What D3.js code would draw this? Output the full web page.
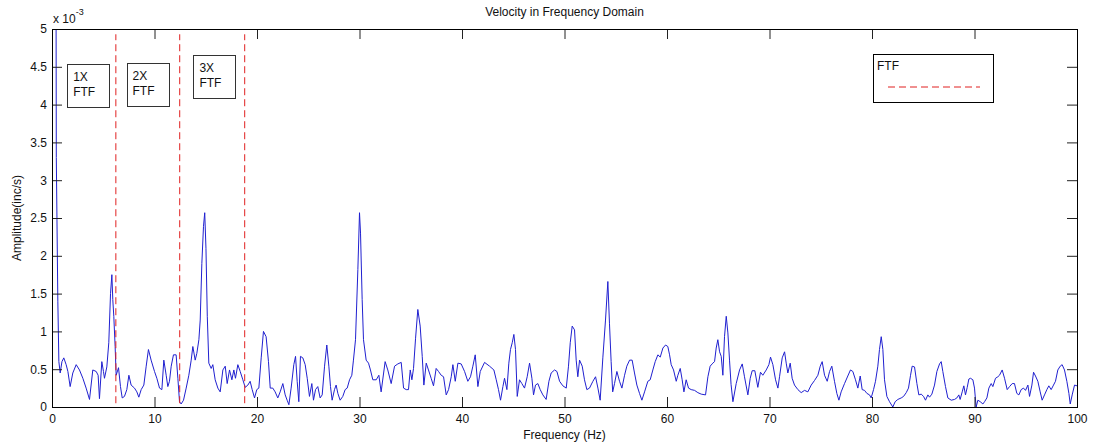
<!DOCTYPE html>
<html>
<head>
<meta charset="utf-8">
<script src="https://cdnjs.cloudflare.com/ajax/libs/d3/7.8.5/d3.min.js"></script>
<style>
  body { margin: 0; background: #fff; }
  svg { font-family: "Liberation Sans", Arial, sans-serif; }
</style>
</head>
<body>
<div id="chart"></div>
<script>
/************ data ***************************************/

// frequency of each vertex (Hz)
const freqHz = [
  0, 0.42, 0.57, 0.67, 0.8, 0.97, 1.15, 1.38, 1.55, 1.77, 2.03, 2.36, 2.68, 3.01, 3.33, 3.66, 3.98, 4.31, 4.5, 4.63,
  4.86, 5.02, 5.12, 5.35, 5.54, 5.71, 5.84, 5.93, 6.03, 6.16, 6.26, 6.49, 6.68, 6.85, 7.07, 7.3, 7.5, 7.72, 8.05, 8.28,
  8.47, 8.7, 8.96, 9.19, 9.41, 9.67, 10.0, 10.23, 10.49, 10.72, 10.91, 11.14, 11.3, 11.46, 11.63, 11.85, 12.11, 12.28, 12.44, 12.6,
  12.83, 13.09, 13.35, 13.58, 13.74, 13.97, 14.13, 14.33, 14.46, 14.62, 14.78, 14.9, 15.02, 15.15, 15.3, 15.53, 15.69, 15.92, 16.18, 16.41,
  16.67, 16.9, 17.09, 17.32, 17.55, 17.74, 17.9, 18.13, 18.36, 18.62, 18.85, 19.11, 19.33, 19.53, 19.76, 19.98, 20.18, 20.41, 20.63, 20.89,
  21.12, 21.29, 21.54, 21.77, 22.03, 22.26, 22.52, 22.75, 22.94, 23.11, 23.33, 23.59, 23.76, 23.92, 24.08, 24.24, 24.47, 24.7, 24.9, 25.12,
  25.35, 25.51, 25.71, 25.93, 26.16, 26.36, 26.59, 26.81, 27.01, 27.17, 27.33, 27.56, 27.72, 27.89, 28.11, 28.37, 28.6, 28.8, 29.03, 29.25,
  29.41, 29.61, 29.84, 30.0, 30.1, 30.26, 30.39, 30.65, 30.88, 31.07, 31.3, 31.63, 31.89, 32.11, 32.5, 32.76, 33.09, 33.42, 33.74, 34.07,
  34.3, 34.56, 34.78, 34.95, 35.11, 35.27, 35.47, 35.69, 35.92, 36.12, 36.28, 36.51, 36.73, 36.99, 37.22, 37.48, 37.71, 37.97, 38.2, 38.46,
  38.69, 38.95, 39.11, 39.34, 39.6, 39.92, 40.25, 40.57, 40.83, 41.06, 41.29, 41.55, 41.78, 42.2, 42.69, 43.11, 43.34, 43.56, 43.76, 43.99,
  44.15, 44.38, 44.57, 44.73, 44.9, 45.06, 45.22, 45.39, 45.61, 45.84, 46.1, 46.36, 46.59, 46.82, 46.98, 47.17, 47.4, 47.63, 47.89, 48.21,
  48.48, 48.7, 49.03, 49.26, 49.52, 49.84, 50.17, 50.39, 50.56, 50.75, 50.98, 51.14, 51.3, 51.47, 51.73, 51.95, 52.18, 52.44, 52.77, 53.03,
  53.26, 53.48, 53.74, 54.0, 54.23, 54.39, 54.55, 54.7, 54.88, 55.11, 55.37, 55.6, 55.86, 56.08, 56.35, 56.6, 56.83, 57.06, 57.32, 57.55,
  57.81, 58.13, 58.36, 58.62, 58.85, 59.11, 59.34, 59.6, 59.86, 60.08, 60.25, 60.41, 60.64, 60.9, 61.06, 61.29, 61.48, 61.65, 61.87, 62.1,
  62.36, 62.69, 63.01, 63.34, 63.76, 63.99, 64.21, 64.47, 64.64, 64.8, 64.96, 65.13, 65.29, 65.45, 65.61, 65.78, 65.94, 66.1, 66.25, 66.43,
  66.75, 67.08, 67.34, 67.56, 67.89, 68.12, 68.31, 68.57, 68.86, 69.12, 69.35, 69.68, 69.94, 70.1, 70.33, 70.59, 70.82, 70.98, 71.24, 71.47,
  71.63, 71.79, 72.02, 72.21, 72.44, 72.77, 73.09, 73.42, 73.74, 74.07, 74.39, 74.72, 74.95, 75.14, 75.37, 75.63, 75.86, 76.08, 76.34, 76.57,
  76.77, 76.99, 77.32, 77.64, 77.9, 78.13, 78.39, 78.62, 78.85, 79.04, 79.27, 79.5, 79.76, 79.92, 80.15, 80.34, 80.57, 80.73, 80.9, 81.06,
  81.22, 81.45, 81.71, 82.03, 82.26, 82.52, 82.85, 83.08, 83.34, 83.56, 83.76, 83.92, 84.15, 84.38, 84.57, 84.8, 85.03, 85.22, 85.45, 85.61,
  85.84, 86.1, 86.33, 86.59, 86.75, 86.91, 87.17, 87.4, 87.73, 88.05, 88.28, 88.47, 88.6, 88.8, 88.96, 89.12, 89.29, 89.45, 89.61, 89.84,
  90.0, 90.16, 90.33, 90.56, 90.82, 90.98, 91.21, 91.4, 91.63, 91.79, 92.05, 92.28, 92.44, 92.7, 92.93, 93.19, 93.42, 93.68, 93.9, 94.13,
  94.33, 94.55, 94.78, 94.98, 95.21, 95.37, 95.6, 95.76, 95.95, 96.18, 96.41, 96.6, 96.83, 97.06, 97.25, 97.48, 97.71, 97.9, 98.13, 98.36,
  98.55, 98.78, 99.01, 99.21, 99.34, 99.53, 99.76, 100.0
];

// amplitude at each vertex (x 10^-3 inc/s)
const ampE3 = [
  40, 3.3, 1.4, 0.6, 0.45, 0.6, 0.65, 0.56, 0.47, 0.27, 0.45, 0.56, 0.49, 0.38, 0.25, 0.1, 0.49, 0.47, 0.42, 0.11,
  0.6, 0.47, 0.38, 0.53, 0.85, 1.5, 1.75, 1.42, 1.2, 0.8, 0.42, 0.52, 0.27, 0.12, 0.14, 0.23, 0.42, 0.29, 0.25, 0.2,
  0.13, 0.23, 0.29, 0.54, 0.76, 0.62, 0.47, 0.38, 0.25, 0.23, 0.62, 0.42, 0.27, 0.34, 0.54, 0.69, 0.69, 0.38, 0.07, 0.04,
  0.09, 0.25, 0.42, 0.62, 0.8, 0.62, 0.71, 0.89, 1.15, 1.9, 2.39, 2.57, 2.1, 1.2, 0.58, 0.51, 0.56, 0.36, 0.25, 0.2,
  0.49, 0.54, 0.31, 0.49, 0.36, 0.49, 0.38, 0.56, 0.47, 0.36, 0.26, 0.29, 0.34, 0.23, 0.12, 0.23, 0.25, 0.65, 1.0, 0.93,
  0.6, 0.25, 0.25, 0.2, 0.12, 0.2, 0.31, 0.16, 0.09, 0.03, 0.25, 0.56, 0.67, 0.34, 0.07, 0.67, 0.65, 0.56, 0.38, 0.14,
  0.31, 0.09, 0.23, 0.27, 0.12, 0.16, 0.54, 0.82, 0.54, 0.27, 0.09, 0.23, 0.29, 0.18, 0.09, 0.14, 0.23, 0.25, 0.36, 0.42,
  0.62, 0.89, 1.82, 2.57, 2.3, 1.42, 0.89, 0.62, 0.58, 0.49, 0.36, 0.36, 0.42, 0.2, 0.6, 0.49, 0.31, 0.54, 0.57, 0.59,
  0.25, 0.23, 0.23, 0.49, 0.36, 0.51, 0.91, 1.29, 1.07, 0.67, 0.29, 0.58, 0.49, 0.38, 0.28, 0.51, 0.47, 0.42, 0.4, 0.16,
  0.23, 0.4, 0.56, 0.34, 0.58, 0.57, 0.47, 0.34, 0.4, 0.54, 0.69, 0.27, 0.47, 0.59, 0.54, 0.49, 0.36, 0.23, 0.09, 0.27,
  0.38, 0.23, 0.58, 0.76, 0.85, 0.96, 0.76, 0.14, 0.36, 0.31, 0.25, 0.4, 0.58, 0.38, 0.16, 0.29, 0.31, 0.23, 0.16, 0.1,
  0.34, 0.45, 0.49, 0.47, 0.34, 0.28, 0.25, 0.54, 0.85, 1.07, 1.02, 0.62, 0.4, 0.62, 0.54, 0.36, 0.23, 0.25, 0.34, 0.4,
  0.25, 0.09, 0.65, 1.15, 1.66, 1.1, 0.6, 0.2, 0.31, 0.47, 0.34, 0.25, 0.42, 0.54, 0.62, 0.62, 0.45, 0.29, 0.18, 0.09,
  0.2, 0.34, 0.36, 0.49, 0.6, 0.69, 0.66, 0.78, 0.82, 0.8, 0.69, 0.56, 0.49, 0.34, 0.42, 0.51, 0.36, 0.2, 0.36, 0.25,
  0.23, 0.22, 0.19, 0.17, 0.16, 0.4, 0.54, 0.58, 0.6, 0.78, 0.89, 0.73, 0.67, 0.42, 0.93, 1.2, 0.98, 0.62, 0.3, 0.07,
  0.31, 0.49, 0.57, 0.4, 0.16, 0.38, 0.48, 0.48, 0.26, 0.46, 0.42, 0.49, 0.56, 0.66, 0.56, 0.36, 0.25, 0.4, 0.65, 0.73,
  0.58, 0.45, 0.58, 0.38, 0.29, 0.23, 0.19, 0.22, 0.2, 0.29, 0.35, 0.42, 0.54, 0.6, 0.42, 0.34, 0.47, 0.54, 0.34, 0.18,
  0.09, 0.2, 0.31, 0.41, 0.49, 0.47, 0.36, 0.25, 0.41, 0.23, 0.22, 0.18, 0.16, 0.12, 0.23, 0.34, 0.54, 0.76, 0.93, 0.76,
  0.36, 0.14, 0.07, 0.0, 0.07, 0.1, 0.12, 0.14, 0.19, 0.25, 0.42, 0.54, 0.53, 0.31, 0.16, 0.17, 0.14, 0.09, 0.16, 0.13,
  0.17, 0.29, 0.47, 0.57, 0.6, 0.47, 0.27, 0.12, 0.09, 0.1, 0.12, 0.16, 0.1, 0.2, 0.28, 0.16, 0.26, 0.37, 0.38, 0.36,
  0.25, 0.0, 0.09, 0.07, 0.04, 0.07, 0.12, 0.25, 0.31, 0.27, 0.38, 0.4, 0.42, 0.49, 0.38, 0.23, 0.27, 0.31, 0.31, 0.18,
  0.16, 0.23, 0.25, 0.22, 0.29, 0.14, 0.29, 0.46, 0.41, 0.34, 0.2, 0.09, 0.16, 0.23, 0.28, 0.23, 0.29, 0.34, 0.49, 0.54,
  0.56, 0.49, 0.34, 0.18, 0.04, 0.16, 0.29, 0.28
];

// FTF harmonics (Hz) and their text labels
const ftfHarmonics = [6.23, 12.46, 18.8];
const ftfLabels = [["1X", "FTF"], ["2X", "FTF"], ["3X", "FTF"]];

const xTicks = [0, 10, 20, 30, 40, 50, 60, 70, 80, 90, 100];
const yTicks = [0, 0.5, 1, 1.5, 2, 2.5, 3, 3.5, 4, 4.5, 5];

/************ layout *****************/

const chartW = 1096, chartH = 443;
const plotL = 52, plotR = 1077, plotT = 29, plotB = 407;

// annotation boxes, in data units: [x0, x1, yTop, yBottom]
const boxSpots = [[1.48, 5.54, 4.54, 3.97], [7.27, 11.37, 4.55, 3.98], [13.8, 17.87, 4.65, 4.08]];

const x = d3.scaleLinear().domain([0, 100]).range([plotL, plotR]);
const y = d3.scaleLinear().domain([0, 5]).range([plotB, plotT]);

const svg = d3.select("#chart").append("svg")
    .attr("width", chartW)
    .attr("height", chartH);

svg.append("rect").attr("width", chartW).attr("height", chartH).attr("fill", "#fff");

svg.append("defs").append("clipPath").attr("id", "plotClip")
  .append("rect")
    .attr("x", plotL).attr("y", plotT)
    .attr("width", plotR - plotL + 1).attr("height", plotB - plotT + 1);

// spectrum line
const pts = freqHz.map((f, i) => [f, ampE3[i]]);
const line = d3.line().x(d => x(d[0])).y(d => y(d[1]));

svg.append("path")
    .datum(pts)
    .attr("clip-path", "url(#plotClip)")
    .attr("fill", "none")
    .attr("stroke", "#2020d0")
    .attr("stroke-width", 1)
    .attr("stroke-linejoin", "round")
    .attr("d", line);

// FTF harmonic markers
svg.selectAll("line.ftf")
  .data(ftfHarmonics)
  .enter().append("line")
    .attr("class", "ftf")
    .attr("x1", d => x(d)).attr("x2", d => x(d))
    .attr("y1", y(0.05)).attr("y2", y(4.93))
    .attr("stroke", "#e02020")
    .attr("stroke-width", 1)
    .attr("stroke-dasharray", "7,4");

// axes, ticks pointing inward on all four sides
const fmt = d => String(d);
svg.append("g").attr("transform", `translate(0,${plotB})`)
  .call(d3.axisBottom(x).tickValues(xTicks).tickFormat(fmt).tickSizeInner(-10).tickSizeOuter(0).tickPadding(7))
  .call(g => g.select(".domain").remove());
svg.append("g").attr("transform", `translate(0,${plotT})`)
  .call(d3.axisTop(x).tickValues(xTicks).tickFormat("").tickSizeInner(-10).tickSizeOuter(0))
  .call(g => g.select(".domain").remove());
svg.append("g").attr("transform", `translate(${plotL},0)`)
  .call(d3.axisLeft(y).tickValues(yTicks).tickFormat(fmt).tickSizeInner(-10).tickSizeOuter(0).tickPadding(5))
  .call(g => g.select(".domain").remove());
svg.append("g").attr("transform", `translate(${plotR},0)`)
  .call(d3.axisRight(y).tickValues(yTicks).tickFormat("").tickSizeInner(-10).tickSizeOuter(0))
  .call(g => g.select(".domain").remove());

svg.selectAll(".tick line").attr("stroke", "#222");
svg.selectAll(".tick text")
    .attr("font-family", "Liberation Sans, Arial, sans-serif")
    .attr("font-size", 12)
    .attr("fill", "#111");

// axes box
svg.append("rect")
    .attr("x", plotL + 0.5).attr("y", plotT + 0.5)
    .attr("width", plotR - plotL).attr("height", plotB - plotT)
    .attr("fill", "none")
    .attr("stroke", "#000");

// exponent label
const expo = svg.append("text").attr("x", plotL + 1).attr("y", 23)
    .attr("font-size", 12).attr("fill", "#111");
expo.append("tspan").text("x 10");
expo.append("tspan").attr("dy", -8).attr("font-size", 9).text("-3");

// titles
svg.append("text")
    .attr("x", (plotL + plotR) / 2).attr("y", 16)
    .attr("text-anchor", "middle").attr("font-size", 12).attr("fill", "#111")
    .text("Velocity in Frequency Domain");

svg.append("text")
    .attr("x", (plotL + plotR) / 2).attr("y", 439)
    .attr("text-anchor", "middle").attr("font-size", 12).attr("fill", "#111")
    .text("Frequency (Hz)");

svg.append("text")
    .attr("transform", `translate(21,${(plotT + plotB) / 2}) rotate(-90)`)
    .attr("text-anchor", "middle").attr("font-size", 12).attr("fill", "#111")
    .text("Amplitude(inc/s)");

// harmonic text boxes
const boxes = svg.selectAll("g.note")
  .data(ftfLabels)
  .enter().append("g")
    .attr("class", "note");

boxes.append("rect")
    .attr("x", (d, i) => Math.round(x(boxSpots[i][0])) + 0.5)
    .attr("y", (d, i) => Math.round(y(boxSpots[i][2])) + 0.5)
    .attr("width", (d, i) => Math.round(x(boxSpots[i][1]) - x(boxSpots[i][0])))
    .attr("height", (d, i) => Math.round(y(boxSpots[i][3]) - y(boxSpots[i][2])))
    .attr("fill", "#fff")
    .attr("stroke", "#333");

boxes.append("text")
    .attr("x", (d, i) => x(boxSpots[i][0]) + 6)
    .attr("y", (d, i) => y(boxSpots[i][2]) + 17)
    .attr("font-size", 12).attr("fill", "#111")
    .text(d => d[0]);

boxes.append("text")
    .attr("x", (d, i) => x(boxSpots[i][0]) + 6)
    .attr("y", (d, i) => y(boxSpots[i][2]) + 32)
    .attr("font-size", 12).attr("fill", "#111")
    .text(d => d[1]);

// legend
const lg = svg.append("g").attr("transform", "translate(873,54)");
lg.append("rect")
    .attr("x", 0.5).attr("y", 0.5).attr("width", 120).attr("height", 48)
    .attr("fill", "#fff").attr("stroke", "#000");
lg.append("text").attr("x", 4).attr("y", 16)
    .attr("font-size", 12).attr("fill", "#111").text("FTF");
lg.append("line")
    .attr("x1", 15).attr("x2", 107).attr("y1", 33).attr("y2", 33)
    .attr("stroke", "#e02020").attr("stroke-dasharray", "7,4");
</script>
</body>
</html>
